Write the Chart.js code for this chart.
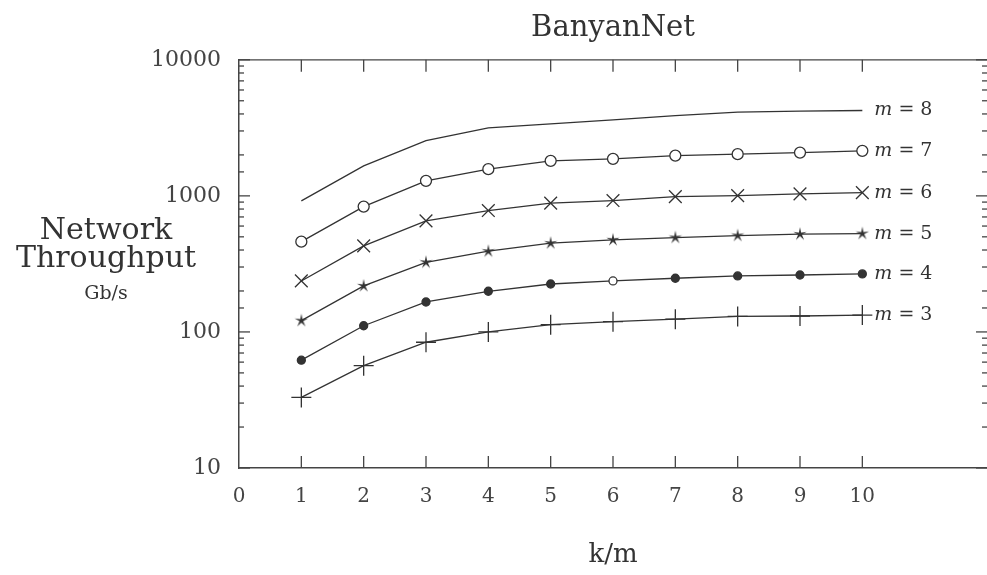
<!DOCTYPE html>
<html>
<head>
<meta charset="utf-8">
<script src="https://cdn.jsdelivr.net/npm/chart.js@4"></script>
<style>
  html, body { margin: 0; background: #fff; overflow: hidden; }
  canvas { display: block; }
</style>
</head>
<body>
<canvas id="chart" width="987" height="575"></canvas>
<script>
// k/m on the x axis
const kOverM = [1, 2, 3, 4, 5, 6, 7, 8, 9, 10];
// network throughput (Gb/s) for each m
const m3 = [33, 56.5, 84, 100, 113, 119, 124, 130, 131, 133];
const m4 = [62, 111, 166, 199, 225, 237, 248, 258, 262, 267];
const m5 = [121, 218, 325, 392, 449, 475, 494, 511, 523, 528];
const m6 = [237, 429, 655, 780, 884, 924, 988, 1005, 1035, 1057];
const m7 = [461, 834, 1289, 1571, 1808, 1871, 1978, 2026, 2081, 2143];
const m8 = [919, 1662, 2551, 3162, 3383, 3622, 3894, 4125, 4195, 4240];
const mValues = [3, 4, 5, 6, 7, 8];

const xTickLabels = [0, 1, 2, 3, 4, 5, 6, 7, 8, 9, 10];
const yTickLabels = [10, 100, 1000, 10000];

const ink = '#333';
const serif = 'DejaVu Serif';

function makeStar(r) {
  const c = document.createElement('canvas');
  c.width = c.height = 2 * r + 2;
  const g = c.getContext('2d');
  g.translate(r + 1, r + 1);
  g.beginPath();
  for (let i = 0; i < 10; i++) {
    const a = -Math.PI / 2 + i * Math.PI / 5;
    const rr = i % 2 ? r * 0.28 : r;
    g.lineTo(rr * Math.cos(a), rr * Math.sin(a));
  }
  g.closePath();
  g.fillStyle = ink;
  g.fill();
  return c;
}

function points(values) {
  return kOverM.map((k, i) => ({ x: k, y: values[i] }));
}

const base = { borderColor: ink, borderWidth: 1.3, tension: 0, pointBorderColor: ink, pointBorderWidth: 1.3 };

const datasets = [
  Object.assign({}, base, { data: points(m3), pointStyle: 'cross', pointRadius: 10 }),
  Object.assign({}, base, { data: points(m4), pointStyle: 'circle', pointRadius: 4,
    pointBackgroundColor: m4.map((v, i) => i === 5 ? '#fff' : ink) }),
  Object.assign({}, base, { data: points(m5), pointStyle: makeStar(7), pointRadius: 7 }),
  Object.assign({}, base, { data: points(m6), pointStyle: 'crossRot', pointRadius: 9 }),
  Object.assign({}, base, { data: points(m7), pointStyle: 'circle', pointRadius: 5.5, pointBackgroundColor: '#fff' }),
  Object.assign({}, base, { data: points(m8), pointRadius: 0 })
];

// inward ticks, top frame line, axis caption and m = .. labels
const decorations = {
  id: 'decorations',
  afterDatasetsDraw(chart) {
    const { ctx, chartArea: { left, right, top, bottom }, scales: { x, y } } = chart;
    ctx.save();
    ctx.strokeStyle = '#444';
    ctx.lineWidth = 1.3;
    const line = (x1, y1, x2, y2) => { ctx.beginPath(); ctx.moveTo(x1, y1); ctx.lineTo(x2, y2); ctx.stroke(); };
    line(left, top, right, top);
    xTickLabels.forEach(v => {
      if (v === 0) return;
      const px = x.getPixelForValue(v);
      line(px, bottom, px, bottom - 12);
      line(px, top, px, top + 12);
    });
    y.ticks.forEach(t => {
      const py = y.getPixelForValue(t.value);
      const len = yTickLabels.includes(t.value) ? 11 : 5;
      line(left, py, left + len, py);
      line(right, py, right - len, py);
    });

    ctx.fillStyle = ink;
    ctx.textBaseline = 'middle';
    chart.data.datasets.forEach((ds, i) => {
      const meta = chart.getDatasetMeta(i);
      const last = meta.data[meta.data.length - 1];
      let tx = last.x + 12;
      ctx.font = 'italic 19px "' + serif + '"';
      ctx.fillText('m', tx, last.y);
      tx += ctx.measureText('m').width;
      ctx.font = '19px "' + serif + '"';
      ctx.fillText(' = ' + mValues[i], tx, last.y);
    });

    ctx.textAlign = 'center';
    ctx.textBaseline = 'alphabetic';
    ctx.font = '30px "' + serif + '"';
    ctx.fillText('Network', 106, 239);
    ctx.fillText('Throughput', 106, 267);
    ctx.font = '19px "' + serif + '"';
    ctx.fillText('Gb/s', 106, 299);
    ctx.restore();
  }
};

new Chart(document.getElementById('chart'), {
  type: 'line',
  data: { datasets: datasets },
  plugins: [decorations],
  options: {
    responsive: false,
    animation: false,
    events: [],
    layout: { padding: 0, autoPadding: false },
    plugins: {
      legend: { display: false },
      tooltip: { enabled: false },
      title: {
        display: true,
        text: 'BanyanNet',
        fullSize: false,
        color: ink,
        font: { family: serif, size: 29, weight: 'normal' },
        padding: { top: 11, bottom: 14 }
      }
    },
    scales: {
      x: {
        type: 'linear',
        min: 0,
        max: 12,
        afterFit(scale) {
          scale.height = 107;
          scale.paddingLeft = 0;
          scale.paddingRight = 0;
        },
        ticks: {
          stepSize: 1,
          autoSkip: false,
          maxRotation: 0,
          padding: 17,
          color: '#444',
          font: { family: serif, size: 20 },
          callback: v => xTickLabels.includes(v) ? String(v) : ''
        },
        grid: { drawOnChartArea: false, drawTicks: false },
        border: { display: true, color: '#444', width: 1.5 },
        title: {
          display: true,
          text: 'k/m',
          color: ink,
          font: { family: serif, size: 26 },
          padding: { top: 0, bottom: 4 }
        }
      },
      y: {
        type: 'logarithmic',
        min: 10,
        max: 10000,
        afterFit(scale) { scale.width = 239; },
        ticks: {
          autoSkip: false,
          padding: 18,
          color: '#444',
          font: { family: serif, size: 22 },
          callback: v => yTickLabels.includes(v) ? String(v) : ''
        },
        grid: { drawOnChartArea: false, drawTicks: false },
        border: { display: true, color: '#444', width: 1.5 }
      }
    }
  }
});
</script>
</body>
</html>
